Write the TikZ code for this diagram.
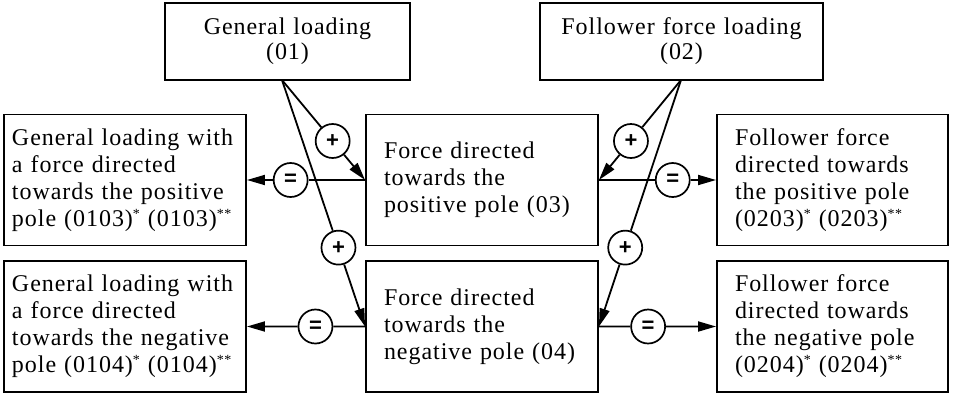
\documentclass[tikz,border=0pt]{standalone}
\usepackage{fontspec}
\setmainfont{Liberation Serif}[LetterSpace=4]
\newfontfamily\symfont{Liberation Sans}
\usetikzlibrary{arrows.meta,calc}
\newcommand\jl[2][226pt]{\makebox[#1][s]{#2}}
\newcommand\st{\raisebox{8pt}{\fontsize{14}{14}\selectfont *}}
\newcommand\sst{\raisebox{8pt}{\fontsize{14}{14}\selectfont **}}
\begin{document}
\begin{tikzpicture}[x=1pt,y=-1pt,
  box/.style={draw, line width=1.9pt, inner sep=0pt, font=\fontsize{24}{27}\selectfont},
  topbox/.style={box, font=\fontsize{24}{25}\selectfont, minimum height=77pt, align=center},
  sym/.style={draw, circle, line width=1.7pt, minimum size=34pt, inner sep=0pt, fill=white, font=\symfont\bfseries\fontsize{22}{22}\selectfont},
  conn/.style={line width=1.8pt},
  arr/.style={conn, -{Triangle[length=18pt,width=10pt]}}]
\useasboundingbox (0,0) rectangle (953,394);
% top boxes
\node[topbox, minimum width=245pt, text width=245pt] (b01) at (287.5,41.5) {General loading\\(01)};
\node[topbox, minimum width=283pt, text width=283pt] (b02) at (681.5,41.5) {Follower force loading\\(02)};
% middle boxes
\node[box, minimum width=232pt, minimum height=131pt, text width=196pt, align=left] (b03) at (482,180) {Force directed\\towards the\\positive pole (03)};
\node[box, minimum width=232pt, minimum height=131pt, text width=196pt, align=left] (b04) at (482,326.5) {Force directed\\towards the\\negative pole (04)};
% left boxes
\node[box, minimum width=242pt, minimum height=131pt, text width=226pt, align=left] (lA) at (125,180) {\jl{General loading with}\\a force directed\\\jl{towards the positive}\\\jl{pole (0103)\st{} (0103)\sst}};
\node[box, minimum width=242pt, minimum height=131pt, text width=226pt, align=left] (lB) at (125,326.5) {\jl{General loading with}\\a force directed\\\jl{towards the negative}\\\jl{pole (0104)\st{} (0104)\sst}};
% right boxes
\node[box, minimum width=231pt, minimum height=131pt, text width=195pt, align=left] (rA) at (832.5,180) {Follower force\\\jl[177pt]{directed towards}\\\jl[177pt]{the positive pole}\\\jl[177pt]{(0203)\st{}  (0203)\sst}};
\node[box, minimum width=231pt, minimum height=131pt, text width=195pt, align=left] (rB) at (832.5,326.5) {Follower force\\\jl[177pt]{directed towards}\\\jl[177pt]{the negative pole}\\\jl[177pt]{(0204)\st{}  (0204)\sst}};
% apexes
\coordinate (a1) at (282,80);
\coordinate (a2) at (681,80);
% plus circles
\node[sym] (p1) at ($(a1)!0.61!(b03.west)$) {+};
\node[sym] (p2) at ($(a1)!0.68!(b04.west)$) {+};
\node[sym] (p3) at ($(a2)!0.61!(b03.east)$) {+};
\node[sym] (p4) at ($(a2)!0.68!(b04.east)$) {+};
% equal circles
\node[sym] (e1) at ($(lA.east)!0.37!(b03.west)$) {=};
\node[sym] (e2) at ($(lB.east)!0.58!(b04.west)$) {=};
\node[sym] (e3) at ($(b03.east)!0.63!(rA.west)$) {=};
\node[sym] (e4) at ($(b04.east)!0.42!(rB.west)$) {=};
% connectors
\draw[conn] (a1) -- (p1);
\draw[arr] (p1) -- (b03.west);
\draw[conn] (a1) -- (p2);
\draw[arr] (p2) -- (b04.west);
\draw[conn] (a2) -- (p3);
\draw[arr] (p3) -- (b03.east);
\draw[conn] (a2) -- (p4);
\draw[arr] (p4) -- (b04.east);
\draw[conn] (b03.west) -- (e1);
\draw[arr] (e1) -- (lA.east);
\draw[conn] (b04.west) -- (e2);
\draw[arr] (e2) -- (lB.east);
\draw[conn] (b03.east) -- (e3);
\draw[arr] (e3) -- (rA.west);
\draw[conn] (b04.east) -- (e4);
\draw[arr] (e4) -- (rB.west);
\end{tikzpicture}
\end{document}
